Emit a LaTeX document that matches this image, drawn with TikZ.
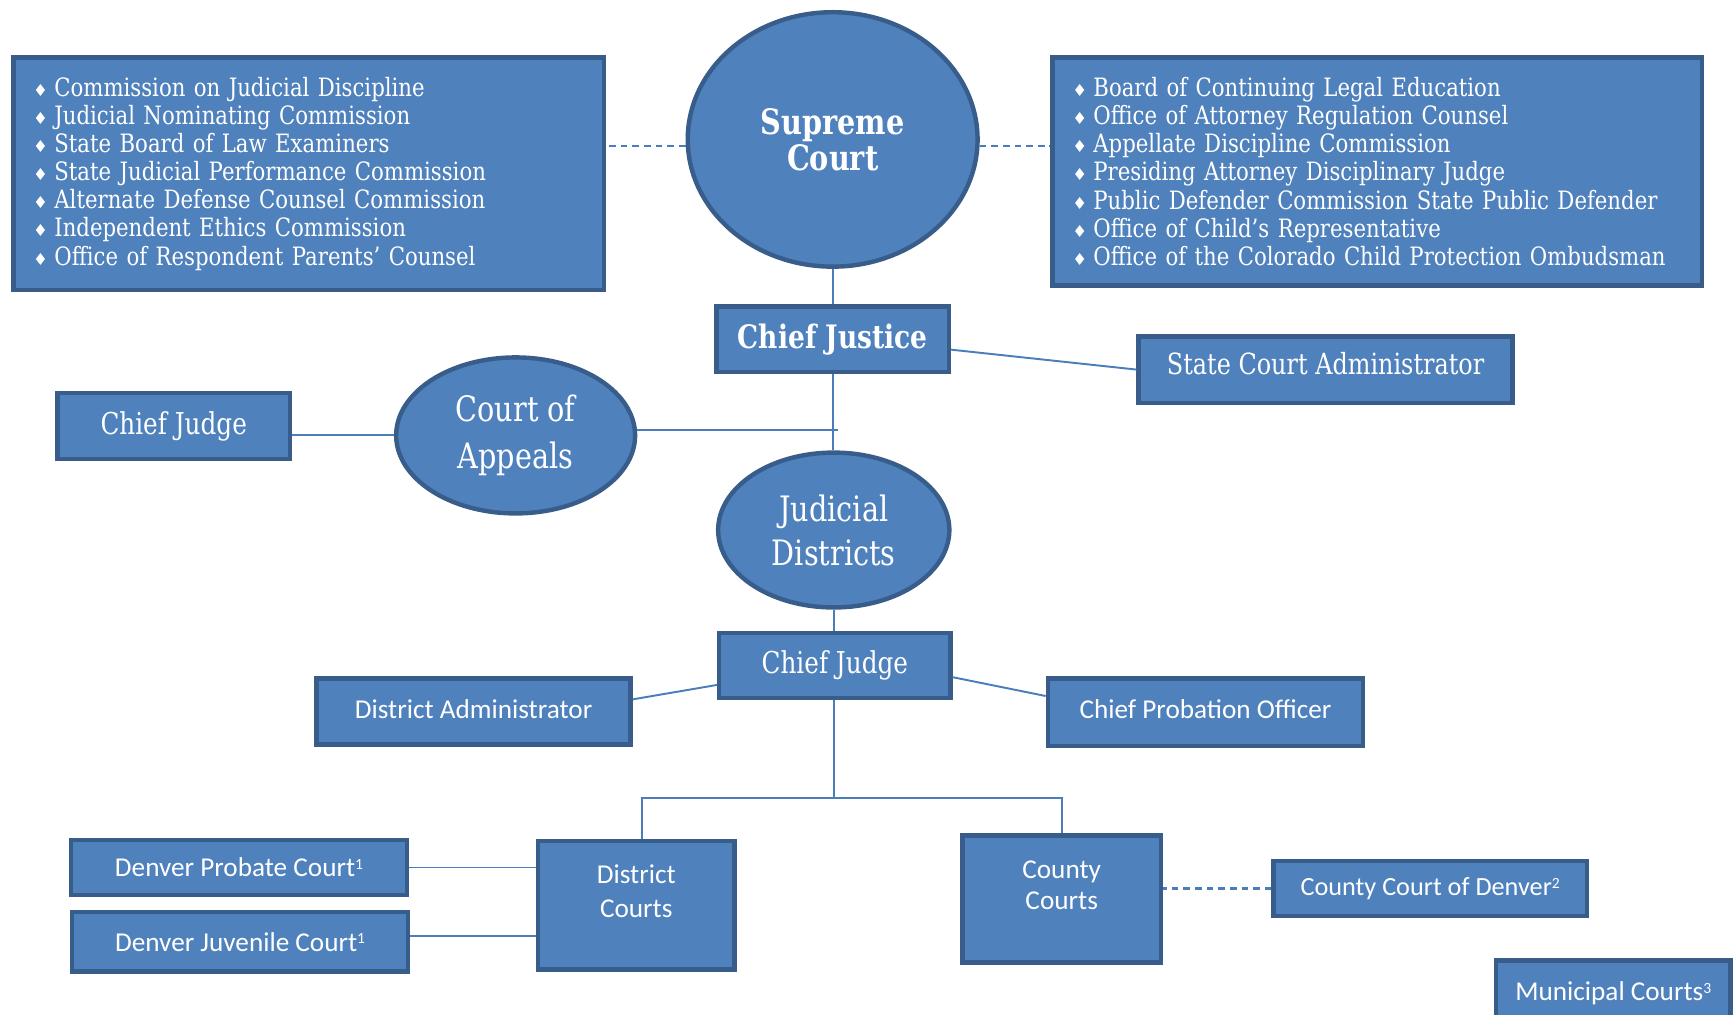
\documentclass[tikz,border=0pt]{standalone}
\usepackage{fontspec}
\usetikzlibrary{shapes.geometric,calc}
\newfontfamily\slab[FakeStretch=0.82]{DejaVu Serif}
\newfontfamily\lslab[FakeStretch=0.84]{DejaVu Serif}
\newfontfamily\calib{Carlito}
\newfontfamily\symf{DejaVu Sans}
\definecolor{boxfill}{HTML}{4F81BD}
\definecolor{boxline}{HTML}{385D8A}
\definecolor{conn}{HTML}{4A7EBB}
\newcommand{\dm}{{\symf\fontsize{8.5}{8.5}\selectfont ♦}\hspace{0.25em}}
\newcommand{\lift}[1]{\rule[-#1]{0pt}{0pt}}
\newcommand{\sups}[1]{\raisebox{0.55ex}{\fontsize{8pt}{8pt}\selectfont #1}}
\begin{document}
\begin{tikzpicture}[x=0.02cm,y=-0.02cm,
  base/.style={draw=boxline, fill=boxfill, line width=0.08cm, text=white, inner sep=0pt},
  box/.style={base, rectangle},
  oval/.style={base, ellipse},
  conline/.style={draw=conn, line width=0.035cm},
  dashline/.style={draw=conn, line width=0.045cm, dash pattern=on 0.12cm off 0.09cm},
  listfont/.style={font={\lslab\fontsize{13pt}{14.46pt}\selectfont}},
  cfont/.style={font={\calib\fontsize{#1}{#1}\selectfont}},
  sfont/.style={font={\slab\fontsize{#1}{#1}\selectfont}},
]
\useasboundingbox (0,0) rectangle (1568,916.4);

\node[box, listfont, minimum width=10.68cm, minimum height=4.2cm, text width=9.96cm, inner xsep=0.36cm, align=left] (lbox) at (279,157) {%
\dm Commission on Judicial Discipline\\
\dm Judicial Nominating Commission\\
\dm State Board of Law Examiners\\
\dm State Judicial Performance Commission\\
\dm Alternate Defense Counsel Commission\\
\dm Independent Ethics Commission\\
\dm Office of Respondent Parents’ Counsel};

\node[box, listfont, minimum width=11.74cm, minimum height=4.12cm, text width=11.02cm, inner xsep=0.36cm, align=left] (rbox) at (1244.5,155) {%
\dm Board of Continuing Legal Education\\
\dm Office of Attorney Regulation Counsel\\
\dm Appellate Discipline Commission\\
\dm Presiding Attorney Disciplinary Judge\\
\dm Public Defender Commission State Public Defender\\
\dm Office of Child’s Representative\\
\dm Office of the Colorado Child Protection Ombudsman};

\node[oval, minimum width=5.24cm, minimum height=4.6cm, align=center, font={\slab\bfseries\fontsize{18pt}{18.5pt}\selectfont}] (sc) at (752.5,126) {Supreme\\Court};

\node[box, minimum width=4.2cm, minimum height=1.18cm, font={\slab\bfseries\fontsize{16.6pt}{16.6pt}\selectfont}] (cj) at (752.5,306.5) {Chief Justice};
\node[box, sfont=15pt, minimum width=6.76cm, minimum height=1.2cm] (sca) at (1198,334) {State Court Administrator\lift{0.22cm}};
\node[oval, minimum width=4.32cm, minimum height=2.82cm, align=center, font={\slab\fontsize{18pt}{23.8pt}\selectfont}] (coa) at (466,393.5) {Court of\\Appeals};
\node[box, sfont=15.5pt, minimum width=4.2cm, minimum height=1.2cm] (cjl) at (157,385) {Chief Judge};
\node[oval, minimum width=4.18cm, minimum height=2.8cm, align=center, font={\slab\fontsize{18pt}{22.7pt}\selectfont}] (jd) at (753.5,479) {Judicial\\Districts};
\node[box, sfont=15.5pt, minimum width=4.18cm, minimum height=1.18cm] (cj2) at (754.5,601.5) {Chief Judge};
\node[box, cfont=14pt, minimum width=5.68cm, minimum height=1.2cm] (da) at (428,643) {District Administrator\lift{0.1cm}};
\node[box, cfont=14pt, minimum width=5.7cm, minimum height=1.22cm] (cpo) at (1089.5,643.5) {Chief Probation Officer\lift{0.1cm}};
\node[box, minimum width=3.56cm, minimum height=2.32cm, align=center, font={\calib\fontsize{14pt}{17.6pt}\selectfont}] (dc) at (575,818) {District\\Courts\lift{0.5cm}};
\node[box, cfont=14pt, minimum width=6.08cm, minimum height=1.0cm] (dpc) at (216,784) {Denver Probate Court\sups{1}};
\node[box, cfont=14pt, minimum width=6.08cm, minimum height=1.08cm] (djc) at (217,851) {Denver Juvenile Court\sups{1}};
\node[box, minimum width=3.58cm, minimum height=2.3cm, align=center, font={\calib\fontsize{14pt}{16pt}\selectfont}] (cc) at (959.5,812.5) {County\\Courts\lift{0.5cm}};
\node[box, cfont=13.5pt, minimum width=5.66cm, minimum height=1.0cm] (ccd) at (1292.5,803) {County Court of Denver\sups{2}};
\node[box, cfont=14pt, minimum width=4.24cm, minimum height=1.2cm] (mc) at (1458,898) {Municipal Courts\sups{3}};

% connectors
\draw[dashline] ([yshift=-0.12cm]sc.west) -- ([yshift=-0.12cm]sc.west -| lbox.east);
\draw[dashline] ([yshift=-0.12cm]sc.east) -- ([yshift=-0.12cm]sc.east -| rbox.west);
\draw[conline] (sc.south) -- (cj.north);
\draw[conline] ([yshift=-0.19cm]cj.east) -- (sca.west);
\draw[conline] (cj.south) -- (cj.south |- jd.north);
\draw[conline] ([yshift=0.1cm]coa.east) -- ([xshift=0.1cm,yshift=0.1cm]coa.east -| cj.south);
\draw[conline] (coa.west) -- (coa.west -| cjl.east);
\draw[conline] (jd.south) -- (jd.south |- cj2.north);
\draw[conline] ([yshift=0.22cm]da.east) -- ([yshift=-0.35cm]cj2.west);
\draw[conline] ([yshift=-0.21cm]cj2.east) -- ([yshift=0.29cm]cpo.west);
\coordinate (bar) at (0,721);
\draw[conline] (jd.south |- cj2.south) -- (jd.south |- bar);
\draw[conline] ([xshift=0.1cm]dc.north) -- ([xshift=0.1cm]dc.north |- bar) -- (cc.north |- bar) -- (cc.north);
\draw[conline] (dpc.east) -- (dc.west |- dpc.east);
\draw[conline] ([yshift=0.1cm]djc.east) -- ([yshift=0.1cm]djc.east -| dc.west);
\draw[dashline] (ccd.west) -- (ccd.west -| cc.east);
\end{tikzpicture}
\end{document}
